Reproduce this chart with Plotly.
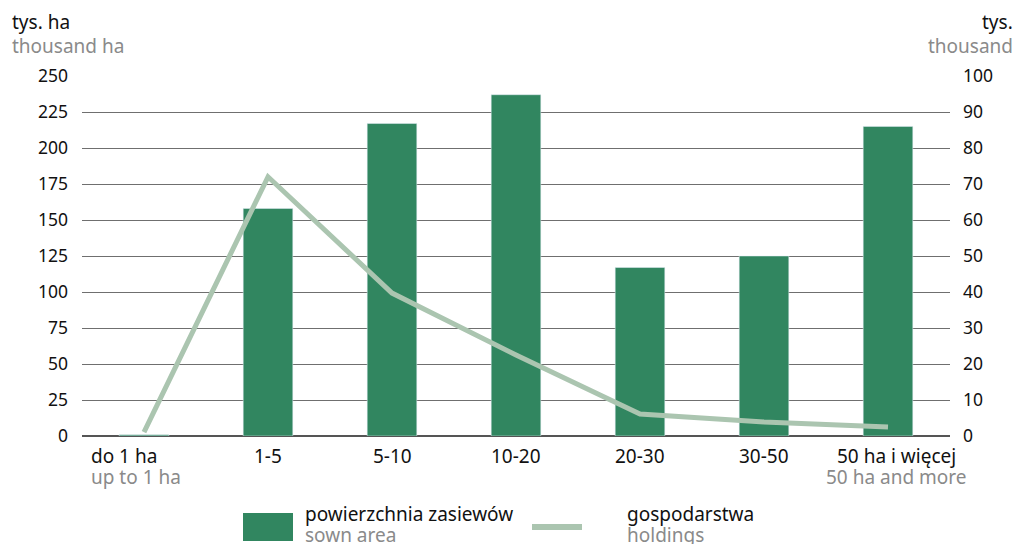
import plotly.graph_objects as go

categories = ["do 1 ha", "1-5", "5-10", "10-20", "20-30", "30-50", "50 ha i więcej"]
sub_labels = ["up to 1 ha", "", "", "", "", "", "50 ha and more"]
sown_area = [0.8, 158, 217, 237, 117, 125, 215]      # tys. ha
holdings = [1.1, 72.0, 39.7, 22.5, 6.1, 3.9, 2.5]    # tys.

BAR_COLOR = "#318660"
LINE_COLOR = "#abc5b0"
GREY = "#8a8a8a"
FONT = "Noto Sans"

fig = go.Figure()
fig.add_trace(go.Bar(x=categories, y=sown_area, marker_color=BAR_COLOR,
                     width=0.4, name="powierzchnia zasiewów", showlegend=False))
fig.add_trace(go.Scatter(x=categories, y=holdings, yaxis="y2", mode="lines",
                         line=dict(color=LINE_COLOR, width=5), name="gospodarstwa",
                         showlegend=False))

fig.update_layout(
    width=1017, height=544,
    margin=dict(l=82, r=67, t=76, b=108),
    plot_bgcolor="white", paper_bgcolor="white",
    font=dict(family=FONT, size=17.5, color="#111"),
    xaxis=dict(range=[-0.5, 6.5], showticklabels=False, showgrid=False,
               showline=False, zeroline=False),
    yaxis=dict(range=[0, 250], tickvals=list(range(0, 251, 25)),
               showgrid=True, gridcolor="#6f6f6f", gridwidth=1,
               zeroline=True, zerolinecolor="#555", zerolinewidth=1.5,
               showline=False, ticks="", ticklabelstandoff=13),
    yaxis2=dict(range=[0, 100], tickvals=list(range(0, 101, 10)),
                overlaying="y", side="right", showgrid=False, zeroline=False,
                showline=False, ticks="", ticklabelstandoff=12),
)


def px(xp, yp):
    """screen pixel -> paper coords"""
    return (xp - 82) / 868, (436 - yp) / 360


TXT = 19
for xp, yp, txt, col, anc in [(10, 22, "tys. ha", "#111", "left"),
                              (10, 46, "thousand ha", GREY, "left"),
                              (1015, 22, "tys.", "#111", "right"),
                              (1015, 46, "thousand", GREY, "right")]:
    ax, ay = px(xp, yp)
    fig.add_annotation(x=ax, y=ay, xref="paper", yref="paper", text=txt,
                       showarrow=False, xanchor=anc, yanchor="middle",
                       font=dict(size=TXT, color=col))

# category labels below the axis
for i, (cat, sub) in enumerate(zip(categories, sub_labels)):
    anchor, shift = "center", 0
    if i == 0:
        anchor, shift = "left", -55
    elif i == len(categories) - 1:
        shift = 8
    fig.add_annotation(x=cat, xref="x", y=(436 - 456) / 360, yref="paper",
                       text=cat, showarrow=False, xanchor=anchor, xshift=shift,
                       yanchor="middle", font=dict(size=TXT, color="#111"))
    if sub:
        fig.add_annotation(x=cat, xref="x", y=(436 - 477) / 360, yref="paper",
                           text=sub, showarrow=False, xanchor=anchor, xshift=shift,
                           yanchor="middle", font=dict(size=TXT, color=GREY))

# legend
x0, y0 = px(243, 513)
x1, y1 = px(293, 541)
fig.add_shape(type="rect", xref="paper", yref="paper", x0=x0, y0=y1, x1=x1, y1=y0,
              fillcolor=BAR_COLOR, line_width=0)
lx0, ly = px(532, 527)
lx1, _ = px(582, 527)
fig.add_shape(type="line", xref="paper", yref="paper", x0=lx0, y0=ly, x1=lx1, y1=ly,
              line=dict(color=LINE_COLOR, width=6))
for xp, yp, txt, col in [(303, 514, "powierzchnia zasiewów", "#111"),
                         (303, 535, "sown area", GREY),
                         (625, 514, "gospodarstwa", "#111"),
                         (625, 535, "holdings", GREY)]:
    ax, ay = px(xp, yp)
    fig.add_annotation(x=ax, y=ay, xref="paper", yref="paper", text=txt,
                       showarrow=False, xanchor="left", yanchor="middle",
                       font=dict(size=TXT, color=col))

fig.write_html(
    "out.html",
    config={"displayModeBar": False},
    post_script="document.body.style.margin='0';document.body.style.overflow='hidden';",
)
